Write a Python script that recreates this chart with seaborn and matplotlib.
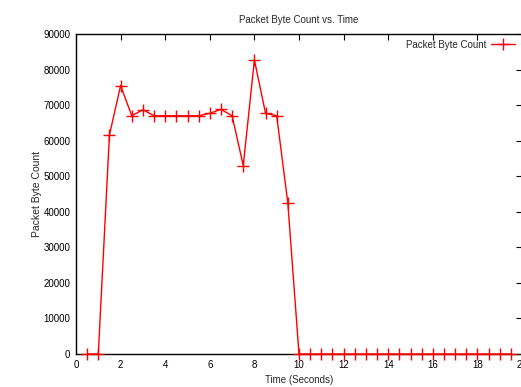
import pandas as pd
import matplotlib
matplotlib.use("Agg")
import matplotlib.pyplot as plt
import seaborn as sns

# Data
time_s = [0.5, 1.0, 1.5, 2.0, 2.5, 3.0, 3.5, 4.0, 4.5, 5.0, 5.5, 6.0, 6.5, 7.0, 7.5,
          8.0, 8.5, 9.0, 9.5, 10.0, 10.5, 11.0, 11.5, 12.0, 12.5, 13.0, 13.5, 14.0,
          14.5, 15.0, 15.5, 16.0, 16.5, 17.0, 17.5, 18.0, 18.5, 19.0, 19.5]
byte_count = [0, 0, 61600, 75500, 67000, 68700, 67000, 67000, 67000, 67000, 67000,
              67700, 68800, 67000, 53000, 82700, 67700, 67000, 42400, 0, 0, 0, 0, 0,
              0, 0, 0, 0, 0, 0, 0, 0, 0, 0, 0, 0, 0, 0, 0]
x_ticks = [0, 2, 4, 6, 8, 10, 12, 14, 16, 18, 20]
y_ticks = [0, 10000, 20000, 30000, 40000, 50000, 60000, 70000, 80000, 90000]

df = pd.DataFrame({"Time": time_s, "Packet Byte Count": byte_count})

sns.set_style("white")
plt.rcParams['font.family'] = ['Liberation Sans', 'DejaVu Sans']

fig = plt.figure(figsize=(5.21, 3.87), dpi=100)
W, H = 521, 387
ax = fig.add_axes([76 / W, (H - 354) / H, (522 - 76) / W, 320 / H])

sns.lineplot(data=df, x="Time", y="Packet Byte Count", color="red", linewidth=1,
             marker="+", markersize=9, markeredgewidth=1, markeredgecolor="red",
             label="Packet Byte Count", ax=ax, clip_on=False, zorder=5)

ax.set_xlim(0, 20)
ax.set_ylim(0, 90000)
ax.set_xticks(x_ticks)
ax.set_yticks(y_ticks)
ax.tick_params(direction="in", length=4, width=0.8, top=True, right=True,
               labelsize=7, colors="black", pad=4)
for s in ax.spines.values():
    s.set_color("black")
    s.set_linewidth(1)

ax.set_title("Packet Byte Count vs. Time", fontsize=7, pad=8)
ax.set_xlabel("Time (Seconds)", fontsize=7, labelpad=4)
ax.set_ylabel("Packet Byte Count", fontsize=7.5, labelpad=1)

ax.legend(loc="upper right", frameon=False, fontsize=7, markerfirst=False,
          handlelength=2.5, handletextpad=0.5, borderaxespad=0.2,
          bbox_to_anchor=(0.998, 1.0))

fig.savefig("out.png", dpi=100)
